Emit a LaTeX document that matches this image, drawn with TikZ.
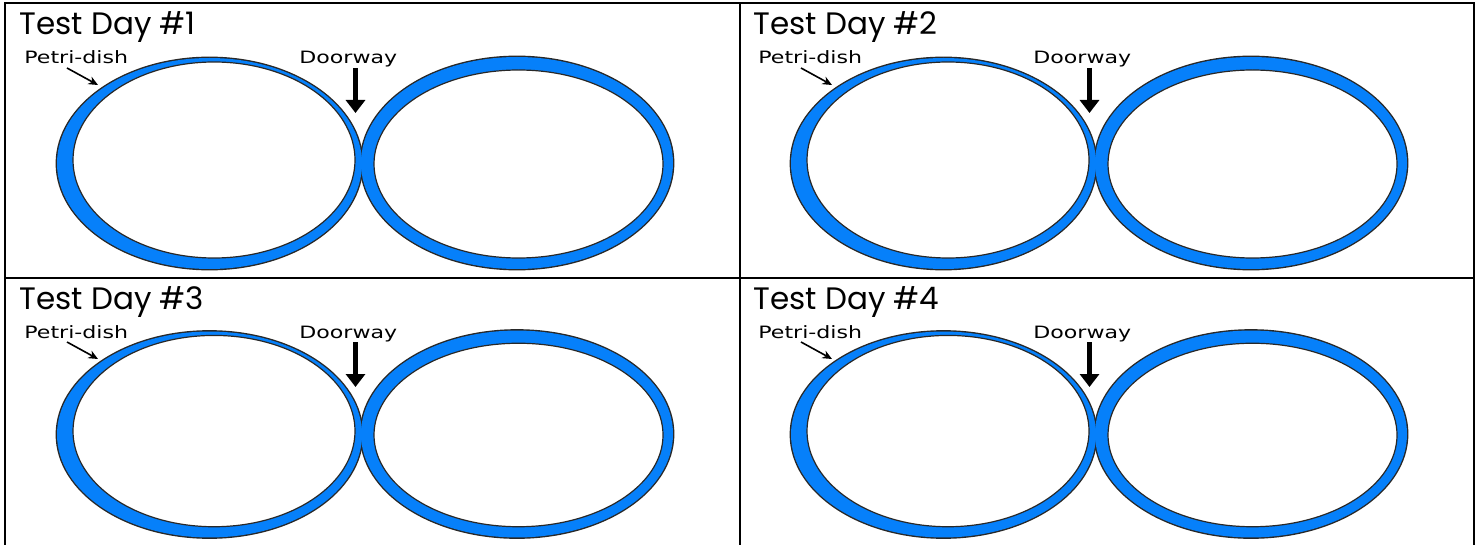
\documentclass[tikz,border=0pt]{standalone}
\usepackage{fontspec}
\setmainfont{Poppins}
\newfontfamily\labfont[FakeStretch=1.3]{DejaVu Sans}
\usetikzlibrary{arrows.meta}
\definecolor{dishblue}{RGB}{6,128,250}
\definecolor{rim}{RGB}{40,40,40}
\tikzset{
  title/.style={anchor=base west, inner sep=0pt, font=\fontsize{15.5}{18}\selectfont},
  lab/.style={anchor=base west, inner sep=0pt, font=\labfont\fontsize{8.5}{10}\selectfont},
  ptr/.style={-{Stealth[length=4.8pt,width=4.2pt]}, line width=0.8pt},
  door/.style={-{Triangle[length=6.5pt,width=9.5pt]}, line width=2.8pt},
  gridline/.style={line width=1pt, black},
  rimstroke/.style={draw=rim, line width=1.4pt},
  inner/.style={fill=white, draw=rim, line width=0.6pt},
}
\newcommand\drawdishes[3]{%
  \begin{scope}[shift={(#1,#2)}, yscale=#3]
    \draw[rimstroke] (209.5,0) ellipse [x radius=152.5, y radius=105.5];
    \draw[rimstroke] (517,-0.5) ellipse [x radius=156, y radius=106];
    \fill[dishblue] (209.5,0) ellipse [x radius=152.5, y radius=105.5];
    \fill[dishblue] (517,-0.5) ellipse [x radius=156, y radius=106];
    \filldraw[inner] (214,-3.5) ellipse [x radius=141, y radius=98];
    \filldraw[inner] (518.5,0.5) ellipse [x radius=144.5, y radius=94];
  \end{scope}}
\newcommand\drawpanel[5]{% #1 dx, #2 dy, #3 number, #4 dish center y, #5 dish yscale
  \drawdishes{#1}{#4}{#5}
  \begin{scope}[shift={(#1,#2)}]
    \node[title] (t#3) at (19,35) {Test Day \##3};
    \node[lab] (p#3) at (24,64) {Petri-dish};
    \node[lab] (d#3) at (299,64) {Doorway};
    \coordinate (pa#3) at (67,68);
    \coordinate (pb#3) at (98,85);
    \coordinate (da#3) at (355.5,68);
    \coordinate (db#3) at (355.5,113);
    \draw[ptr] (pa#3) -- (pb#3);
    \draw[door] (da#3) -- (db#3);
  \end{scope}}
\begin{document}
\begin{tikzpicture}[x=0.5pt, y=-0.5pt]
  \useasboundingbox (0,0) rectangle (1481,545);
  \fill[white] (0,0) rectangle (1481,545);
  \drawpanel{0}{0}{1}{163.5}{1}
  \drawpanel{734}{0}{2}{163.5}{1}
  \drawpanel{0}{274}{3}{434.5}{0.976}
  \drawpanel{734}{274}{4}{434.5}{0.976}
  \coordinate (tl) at (5,2.7);
  \coordinate (tr) at (1474,2.7);
  \coordinate (bl) at (5,545);
  \coordinate (br) at (1474,545);
  \coordinate (mt) at (739.5,2.7);
  \coordinate (mb) at (739.5,545);
  \coordinate (ml) at (5,278);
  \coordinate (mr) at (1474,278);
  \draw[gridline] (bl) -- (tl) -- (tr) -- (br);
  \draw[gridline] (mt) -- (mb);
  \draw[gridline] (ml) -- (mr);
\end{tikzpicture}
\end{document}
